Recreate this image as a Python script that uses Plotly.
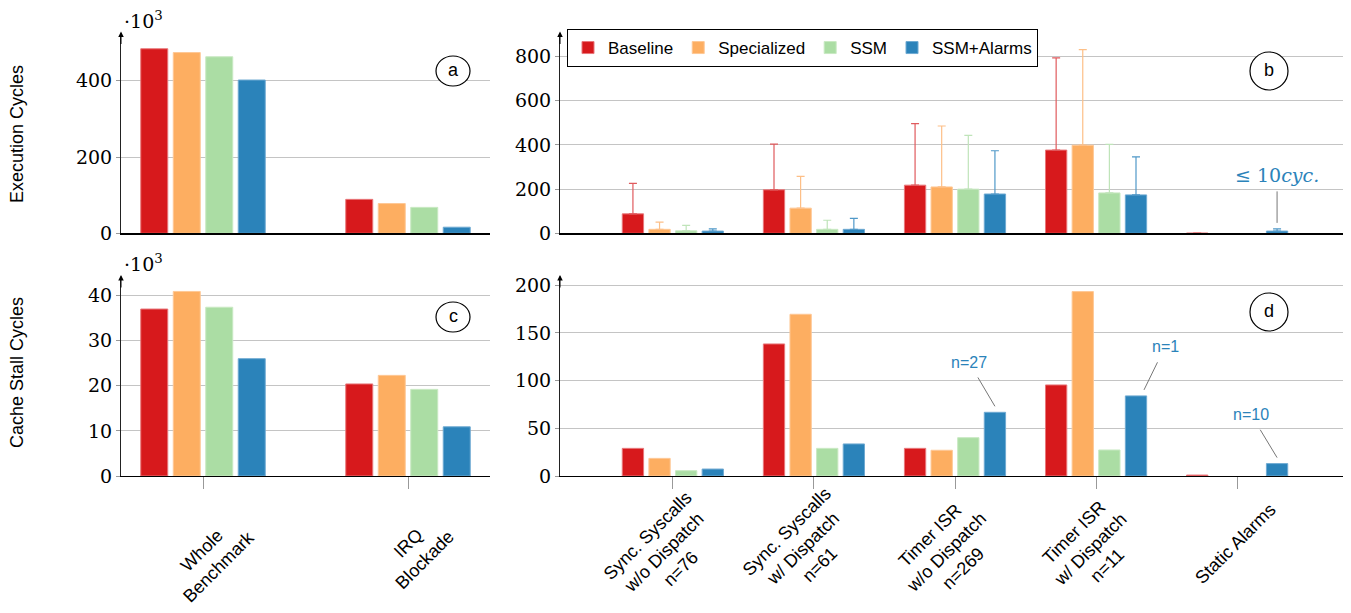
import plotly.graph_objects as go
import numpy as np

W, H = 1351, 613

# ---------------- data ----------------
series = ["Baseline", "Specialized", "SSM", "SSM+Alarms"]
colors = ["#d7191c", "#fdae61", "#abdda4", "#2b83ba"]
edge_colors = ["#e8777a", "#fec896", "#c9e9c3", "#6faad2"]
err_colors = ["#e05a5d", "#fdbf87", "#bfe4b9", "#4f98c8"]

cats_left = ["Whole<br>Benchmark", "IRQ<br>Blockade"]
cats_right = ["Sync. Syscalls<br>w/o Dispatch<br>n=76",
              "Sync. Syscalls<br>w/ Dispatch<br>n=61",
              "Timer ISR<br>w/o Dispatch<br>n=269",
              "Timer ISR<br>w/ Dispatch<br>n=11",
              "Static Alarms"]

# panel a: execution cycles (x10^3)
a_baseline = [484, 89]
a_specialized = [474, 78]
a_ssm = [463, 68]
a_alarms = [402, 16]

# panel b: execution cycles, mean and upper error (top of whisker)
b_baseline = [88, 197, 218, 377, 1]
b_specialized = [18, 114, 210, 399, None]
b_ssm = [11, 18, 200, 183, None]
b_alarms = [10, 18, 178, 174, 10]
b_baseline_top = [226, 404, 497, 795, None]
b_specialized_top = [51, 258, 486, 832, None]
b_ssm_top = [36, 59, 444, 403, None]
b_alarms_top = [20, 68, 374, 346, 20]

# panel c: cache stall cycles (x10^3)
c_baseline = [37.0, 20.4]
c_specialized = [40.9, 22.3]
c_ssm = [37.4, 19.2]
c_alarms = [26.0, 10.9]

# panel d: cache stall cycles
d_baseline = [29, 138.5, 29, 95.5, 1]
d_specialized = [18.5, 169.6, 27, 193.4, None]
d_ssm = [5.6, 29, 40.2, 27.3, None]
d_alarms = [7.3, 33.6, 66.8, 84, 13]

# ---------------- helpers ----------------
SANS = "Liberation Sans"
SERIF = "DejaVu Serif"
OX, OY = 8, 8  # page body margin offset


def px(x):
    return (x - OX) / W


def py(y):
    return 1 - (y - OY) / H


top_dom = [py(233.3), py(33.5)]
bot_dom = [py(476), py(277)]
left_dom = [px(121), px(490)]
right_dom = [px(560), px(1350)]

# bar geometry (category units)
L_W, L_SLOT = 0.1317, 0.1585
R_W, R_SLOT = 0.151, 0.1887


def offset(i, slot, w):
    return (i - 2) * slot + (slot - w) / 2


fig = go.Figure()


def add_bars(vals_list, xa, ya, slot, w, tops=None, legend=False):
    for i, vals in enumerate(vals_list):
        xs = list(range(len(vals)))
        kw = {}
        if tops is not None:
            v = np.array([np.nan if a is None else a for a in vals], float)
            t = np.array([np.nan if a is None else a for a in tops[i]], float)
            plus = t - v
            kw["error_y"] = dict(type="data", symmetric=False,
                                 array=[None if np.isnan(p) else float(p) for p in plus],
                                 arrayminus=[0] * len(vals),
                                 color=err_colors[i], thickness=1.2, width=4)
        fig.add_trace(go.Bar(
            x=xs, y=vals, width=w, offset=offset(i, slot, w),
            marker=dict(color=colors[i], line=dict(color=edge_colors[i], width=1)),
            name=series[i], legendgroup=series[i], showlegend=legend,
            xaxis=xa, yaxis=ya, hoverinfo="skip", **kw))


add_bars([b_baseline, b_specialized, b_ssm, b_alarms], "x2", "y2", R_SLOT, R_W,
         tops=[b_baseline_top, b_specialized_top, b_ssm_top, b_alarms_top], legend=True)
add_bars([a_baseline, a_specialized, a_ssm, a_alarms], "x", "y", L_SLOT, L_W)
add_bars([c_baseline, c_specialized, c_ssm, c_alarms], "x3", "y3", L_SLOT, L_W)
add_bars([d_baseline, d_specialized, d_ssm, d_alarms], "x4", "y4", R_SLOT, R_W)

xcommon = dict(showline=True, linecolor="black", linewidth=1.3, showgrid=False,
               zeroline=False, showticklabels=False, fixedrange=True)
ycommon = dict(showline=True, linecolor="#222", linewidth=1, showgrid=True,
               gridcolor="#c4c4c4", gridwidth=1, zeroline=False, ticks="outside",
               ticklen=4, tickcolor="#999", tickfont=dict(family=SERIF, size=19, color="black"),
               fixedrange=True)

xt_top = dict(ticks="")
xt_bot = dict(ticks="outside", ticklen=12, tickcolor="#999")

fig.update_layout(
    xaxis=dict(domain=left_dom, range=[-0.4, 1.4], anchor="y", **xcommon, **xt_top),
    yaxis=dict(domain=top_dom, range=[0, 524], anchor="x", tickvals=[0, 200, 400], **ycommon),
    xaxis2=dict(domain=right_dom, range=[-0.8, 4.8], anchor="y2", **xcommon, **xt_top),
    yaxis2=dict(domain=top_dom, range=[0, 905], anchor="x2",
                tickvals=[0, 200, 400, 600, 800], **ycommon),
    xaxis3=dict(domain=left_dom, range=[-0.4, 1.4], anchor="y3",
                tickvals=list(range(len(cats_left))), **xcommon, **xt_bot),
    yaxis3=dict(domain=bot_dom, range=[0, 44.1], anchor="x3",
                tickvals=[0, 10, 20, 30, 40], **ycommon),
    xaxis4=dict(domain=right_dom, range=[-0.8, 4.8], anchor="y4",
                tickvals=list(range(len(cats_right))), **xcommon, **xt_bot),
    yaxis4=dict(domain=bot_dom, range=[0, 208.7], anchor="x4",
                tickvals=[0, 50, 100, 150, 200], **ycommon),
)

fig.update_layout(
    width=W, height=H, margin=dict(l=0, r=0, t=0, b=0),
    template="none", paper_bgcolor="white", plot_bgcolor="white",
    font=dict(family=SANS, size=17, color="black"),
    barmode="overlay",
    showlegend=True,
    legend=dict(x=px(567), y=py(29), xanchor="left", yanchor="top",
                orientation="h", bordercolor="black", borderwidth=1,
                bgcolor="white", font=dict(family=SANS, size=17),
                itemwidth=30, traceorder="normal"),
)

ann = []
shapes = []

# y-axis arrowheads
for xa, ya, x0, ytop in [("x", "y", -0.4, 524), ("x2", "y2", -0.8, 905),
                         ("x3", "y3", -0.4, 44.1), ("x4", "y4", -0.8, 208.7)]:
    ann.append(dict(x=x0, y=ytop, xref=xa, yref=ya, ax=0, ay=14, text="",
                    showarrow=True, arrowhead=2, arrowsize=1.1, arrowwidth=1,
                    arrowcolor="black", yshift=2))


def paper_text(x, y, text, **kw):
    d = dict(x=px(x), y=py(y), xref="paper", yref="paper", showarrow=False,
             xanchor="center", yanchor="middle", text=text)
    d.update(kw)
    ann.append(d)


# multiplier labels
paper_text(143, 20, "·10<sup>3</sup>", font=dict(family=SERIF, size=19))
paper_text(143, 263, "·10<sup>3</sup>", font=dict(family=SERIF, size=19))

# axis titles
paper_text(17, 134, "Execution Cycles", textangle=-90, font=dict(family=SANS, size=18))
paper_text(17, 373, "Cache Stall Cycles", textangle=-90, font=dict(family=SANS, size=18))

# panel letters in circles
for letter, cx, cy, w, h in [("a", 453, 71, 34, 30), ("b", 1269, 71, 38, 38),
                             ("c", 453, 317, 34, 30), ("d", 1269, 312, 38, 38)]:
    shapes.append(dict(type="circle", xref="paper", yref="paper",
                       x0=px(cx - w / 2), x1=px(cx + w / 2),
                       y0=py(cy + h / 2), y1=py(cy - h / 2),
                       line=dict(color="black", width=1.2), fillcolor="white",
                       layer="above"))
    paper_text(cx, cy - 1, letter, font=dict(family=SANS, size=18))

# rotated category labels
left_centers = [(7, 558), (8, 551)]
for i, (lab, (dx, cy)) in enumerate(zip(cats_left, left_centers)):
    ann.append(dict(x=i, xref="x3", xshift=dx, y=py(cy), yref="paper", text=lab,
                    textangle=-45, showarrow=False, xanchor="center", yanchor="middle",
                    align="center", font=dict(family=SANS, size=18)))
right_centers = [(-9, 552), (-11, 548), (-9, 552), (-6, 549), (-2, 544)]
for i, (lab, (dx, cy)) in enumerate(zip(cats_right, right_centers)):
    ann.append(dict(x=i, xref="x4", xshift=dx, y=py(cy), yref="paper", text=lab,
                    textangle=-45, showarrow=False, xanchor="center", yanchor="middle",
                    align="center", font=dict(family=SANS, size=18)))


def bar_center(cat, i):
    return cat + (i - 1.5) * R_SLOT


# "<= 10 cyc." callout (panel b)
ann.append(dict(x=bar_center(4, 3), y=b_alarms_top[4], xref="x2", yref="y2",
                yshift=6, ax=0, ay=-48, showarrow=True, arrowhead=0, arrowwidth=1,
                arrowcolor="#777", startstandoff=4,
                text="≤ 10<i>cyc.</i>", font=dict(family=SERIF, size=19, color=colors[3])))

# n= callouts (panel d)
for cat, val, xs, ax, ay, txt in [(2, d_alarms[2], 0, -26, -44, "n=27"),
                                  (3, d_alarms[3], 8, 21, -43, "n=1"),
                                  (4, d_alarms[4], 0, -26, -43, "n=10")]:
    ann.append(dict(x=bar_center(cat, 3), y=val, xref="x4", yref="y4",
                    xshift=xs, yshift=6, ax=ax, ay=ay, showarrow=True, arrowhead=0,
                    arrowwidth=1, arrowcolor="#777", startstandoff=6,
                    text=txt, font=dict(family=SANS, size=16, color=colors[3])))

fig.update_layout(annotations=ann, shapes=shapes)

fig.write_html("out.html", config={"displayModeBar": False, "staticPlot": True})
